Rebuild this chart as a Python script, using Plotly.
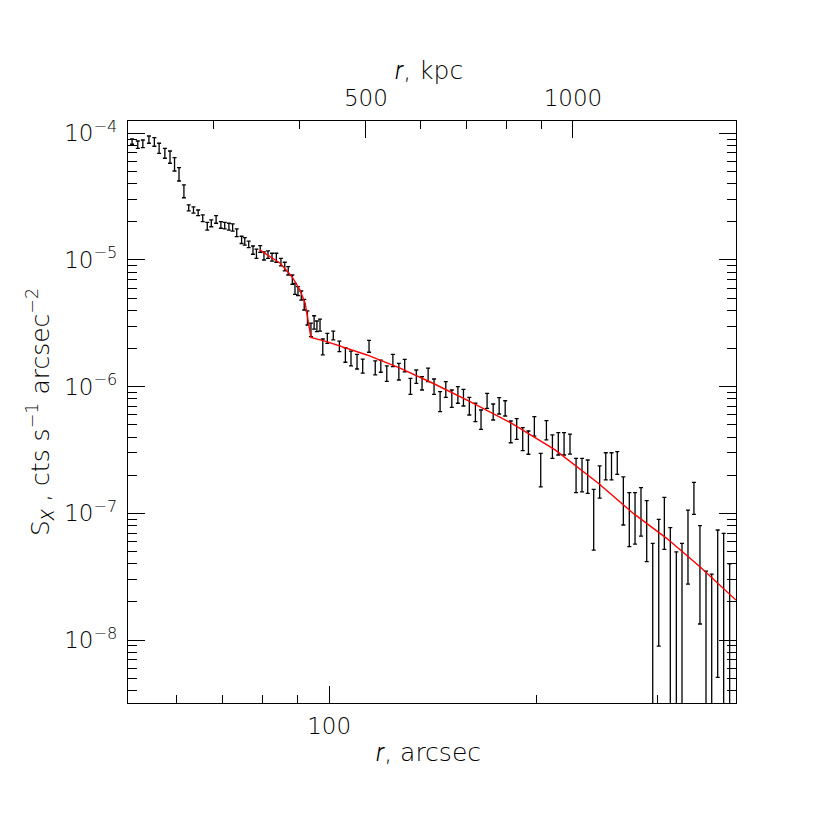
import math
import plotly.graph_objects as go

# ---------------- data ----------------
r_arcsec = [51.7, 52.7, 53.6, 54.7, 55.7, 56.6, 57.7, 58.7, 59.6, 60.5,
            61.5, 62.5, 63.5, 64.5, 65.5, 66.5, 67.4, 68.5, 69.6, 70.5,
            71.5, 72.4, 73.4, 74.6, 75.4, 76.4, 77.5, 78.4, 79.4, 80.4,
            81.5, 82.6, 83.8, 85.1, 86.2, 87.2, 88.4, 89.2, 90.1, 91.1,
            92.0, 93.0, 94.1, 95.1, 96.0, 97.0, 97.9, 99.4, 101.4, 103.5,
            105.6, 107.6, 109.8, 111.9, 114.3, 116.7, 118.9, 121.3, 123.8, 126.3,
            128.8, 131.3, 133.9, 136.5, 139.3, 142.1, 145.0, 147.8, 150.8, 153.9,
            156.8, 159.9, 163.2, 166.3, 169.7, 173.2, 176.7, 180.3, 183.7, 187.4,
            191.2, 194.9, 198.8, 203.1, 207.0, 211.2, 215.4, 219.6, 224.0, 228.6,
            233.2, 237.7, 242.5, 247.4, 252.5, 257.4, 262.4, 267.8, 273.2, 278.5,
            284.1, 289.6, 295.5, 301.5, 307.2, 313.4, 319.8, 325.9, 332.5, 339.2,
            346.1, 353.2, 360.0, 367.3, 374.7, 382.3]

# upper / lower ends of each error bar (cts s^-1 arcsec^-2); 0 = consistent with zero
s_upper = [9.02e-5, 8.69e-5, 8.85e-5, 9.52e-5, 9.23e-5, 8.34e-5, 7.61e-5, 7.25e-5, 6.42e-5, 5.35e-5,
           3.91e-5, 2.72e-5, 2.63e-5, 2.48e-5, 2.27e-5, 1.98e-5, 2.07e-5, 2.24e-5, 2.01e-5, 1.98e-5,
           1.95e-5, 1.93e-5, 1.76e-5, 1.54e-5, 1.50e-5, 1.41e-5, 1.29e-5, 1.22e-5, 1.30e-5, 1.16e-5,
           1.18e-5, 1.13e-5, 1.13e-5, 1.03e-5, 9.6e-6, 8.86e-6, 7.61e-6, 6.55e-6, 6.16e-6, 5.69e-6,
           4.89e-6, 3.96e-6, 3.17e-6, 3.63e-6, 3.30e-6, 3.42e-6, 2.38e-6, 2.64e-6, 2.75e-6, 2.29e-6,
           2.03e-6, 1.91e-6, 1.80e-6, 1.65e-6, 2.32e-6, 1.60e-6, 1.62e-6, 1.46e-6, 1.80e-6, 1.53e-6,
           1.645e-6, 1.165e-6, 1.354e-6, 1.20e-6, 1.40e-6, 1.15e-6, 9.13e-7, 1.095e-6, 9.42e-7, 1.00e-6,
           9.54e-7, 8.25e-7, 7.40e-7, 6.55e-7, 8.87e-7, 7.30e-7, 8.19e-7, 7.75e-7, 5.36e-7, 5.59e-7,
           4.75e-7, 4.47e-7, 5.80e-7, 2.98e-7, 5.39e-7, 4.16e-7, 4.34e-7, 4.34e-7, 4.23e-7, 2.72e-7,
           2.72e-7, 2.64e-7, 1.55e-7, 2.37e-7, 3.01e-7, 3.01e-7, 3.07e-7, 1.94e-7, 1.46e-7, 1.46e-7,
           1.60e-7, 1.26e-7, 5.81e-8, 8.98e-8, 1.34e-7, 7.71e-8, 4.98e-8, 5.81e-8, 1.063e-7, 1.76e-7,
           8.0e-8, 3.51e-8, 3.32e-8, 7.40e-8, 6.97e-8, 3.99e-8]

s_lower = [8.19e-5, 7.61e-5, 7.70e-5, 8.34e-5, 7.90e-5, 6.95e-5, 6.35e-5, 5.80e-5, 5.04e-5, 4.20e-5,
           3.10e-5, 2.44e-5, 2.34e-5, 2.24e-5, 2.01e-5, 1.72e-5, 1.83e-5, 1.95e-5, 1.78e-5, 1.76e-5,
           1.72e-5, 1.69e-5, 1.53e-5, 1.35e-5, 1.31e-5, 1.25e-5, 1.11e-5, 1.03e-5, 1.15e-5, 1.00e-5,
           1.03e-5, 9.8e-6, 9.6e-6, 9.0e-6, 8.2e-6, 7.61e-6, 6.43e-6, 5.36e-6, 5.23e-6, 4.83e-6,
           4.03e-6, 3.07e-6, 2.48e-6, 2.85e-6, 2.72e-6, 2.75e-6, 1.78e-6, 2.20e-6, 2.34e-6, 1.89e-6,
           1.56e-6, 1.46e-6, 1.38e-6, 1.28e-6, 1.87e-6, 1.24e-6, 1.30e-6, 1.10e-6, 1.44e-6, 1.13e-6,
           1.31e-6, 8.71e-7, 1.064e-6, 9.42e-7, 1.095e-6, 8.71e-7, 6.35e-7, 8.25e-7, 6.88e-7, 7.40e-7,
           7.04e-7, 5.98e-7, 5.30e-7, 4.61e-7, 6.75e-7, 5.46e-7, 6.09e-7, 5.87e-7, 3.61e-7, 3.84e-7,
           3.13e-7, 2.93e-7, 4.08e-7, 1.62e-7, 3.80e-7, 2.72e-7, 2.89e-7, 2.89e-7, 2.94e-7, 1.46e-7,
           1.48e-7, 1.44e-7, 5.14e-8, 1.32e-7, 1.84e-7, 1.84e-7, 2.03e-7, 8.1e-8, 5.46e-8, 5.73e-8,
           6.63e-8, 4.16e-8, 0.0, 8.98e-9, 5.21e-8, 0.0, 0.0, 0.0, 2.77e-8, 9.84e-8,
           1.34e-8, 0.0, 0.0, 5.09e-9, 0.0, 0.0]

# red model curve
model_r = [79.3, 84.9, 88.3, 90.7, 92.3, 93.3, 94.1, 99.2, 103.7, 113.5,
           126.8, 141.8, 160.3, 184.3, 213.1, 246.3, 276.9, 309.6, 346.1, 390.5]
model_s = [1.20e-5, 9.42e-6, 7.38e-6, 5.80e-6, 4.55e-6, 3.17e-6, 2.45e-6, 2.27e-6, 2.10e-6, 1.78e-6,
           1.40e-6, 1.06e-6, 7.61e-7, 5.14e-7, 3.17e-7, 1.73e-7, 1.00e-7, 6.36e-8, 3.80e-8, 2.07e-8]

KPC_PER_ARCSEC = 4.42
x_limits = [51.0, 390.5]          # arcsec
y_limits = [3.19e-9, 1.25e-4]

x_major = [100]
x_major_text = ["100"]
x_minor = [60, 70, 80, 90, 200, 300]
top_major = [500, 1000]
top_major_text = ["500", "1000"]
top_minor = [300, 400, 600, 700, 800, 900]
y_major = [1e-8, 1e-7, 1e-6, 1e-5, 1e-4]
y_major_text = ["10<sup>−8</sup>", "10<sup>−7</sup>", "10<sup>−6</sup>",
                "10<sup>−5</sup>", "10<sup>−4</sup>"]
y_minor = [k * 10.0 ** e for e in range(-9, -4) for k in range(2, 10)]
y_minor = [v for v in y_minor if y_limits[0] < v < y_limits[1]]

# ---------------- figure ----------------
center = [(h + l) / 2 for h, l in zip(s_upper, s_lower)]
err = [(h - l) / 2 for h, l in zip(s_upper, s_lower)]

TICK_FONT = dict(family="'DejaVu Sans', sans-serif", size=23, color="black", weight=200)
TITLE_FONT = dict(family="'DejaVu Sans', sans-serif", size=25, color="black", weight=200)
R_ITALIC = "<span style='font-family:Roboto;font-weight:300;font-style:italic'>r</span>"

fig = go.Figure()
fig.add_trace(go.Scatter(
    x=r_arcsec, y=center, mode="markers",
    marker=dict(size=0, opacity=0, color="black"),
    error_y=dict(type="data", array=err, symmetric=True,
                 color="black", thickness=1.3, width=2),
    showlegend=False, hoverinfo="skip"))
fig.add_trace(go.Scatter(
    x=model_r, y=model_s, mode="lines",
    line=dict(color="#ff0000", width=1.4),
    showlegend=False, hoverinfo="skip"))
fig.add_trace(go.Scatter(
    x=[v * KPC_PER_ARCSEC for v in model_r], y=model_s, xaxis="x2", mode="lines",
    line=dict(color="rgba(0,0,0,0)", width=0), opacity=0,
    showlegend=False, hoverinfo="skip"))

axis_common = dict(
    type="log", showgrid=False, zeroline=False, showline=True,
    linecolor="black", linewidth=1.3, ticks="inside", ticklen=17,
    tickwidth=1.2, tickcolor="black", tickmode="array", tickfont=TICK_FONT,
)

fig.update_layout(
    width=830, height=830,
    margin=dict(l=120, r=102, t=113, b=135, pad=0),
    paper_bgcolor="white", plot_bgcolor="white",
    xaxis=dict(**axis_common,
               range=[math.log10(x_limits[0]), math.log10(x_limits[1])],
               tickvals=x_major, ticktext=x_major_text, mirror=False,
               ticklabelstandoff=2,
               minor=dict(tickmode="array", tickvals=x_minor, ticks="inside",
                          ticklen=8, tickwidth=1.2, tickcolor="black", showgrid=False)),
    xaxis2=dict(**axis_common,
                range=[math.log10(x_limits[0] * KPC_PER_ARCSEC),
                       math.log10(x_limits[1] * KPC_PER_ARCSEC)],
                tickvals=top_major, ticktext=top_major_text,
                overlaying="x", side="top", anchor="y",
                ticklabelstandoff=5,
                minor=dict(tickmode="array", tickvals=top_minor, ticks="inside",
                           ticklen=8, tickwidth=1.2, tickcolor="black", showgrid=False)),
    yaxis=dict(**axis_common,
               range=[math.log10(y_limits[0]), math.log10(y_limits[1])],
               tickvals=y_major, ticktext=y_major_text, mirror="ticks",
               ticklabelstandoff=5,
               minor=dict(tickmode="array", tickvals=y_minor, ticks="inside",
                          ticklen=9, tickwidth=1.2, tickcolor="black", showgrid=False)),
    annotations=[
        dict(text=R_ITALIC + ", kpc", xref="paper", yref="paper", x=0.495, y=1.0876,
             xanchor="center", yanchor="middle", showarrow=False, font=TITLE_FONT),
        dict(text=R_ITALIC + ", arcsec", xref="paper", yref="paper", x=0.495, y=-0.0842,
             xanchor="center", yanchor="middle", showarrow=False, font=TITLE_FONT),
        dict(text="S<sub><span style='font-family:Roboto;font-weight:300;font-style:italic'>X</span></sub>"
                  " , cts s<sup>−1</sup> arcsec<sup>−2</sup>",
             xref="paper", yref="paper", x=-0.1447, y=0.5, textangle=-90,
             xanchor="center", yanchor="middle", showarrow=False, font=TITLE_FONT),
    ],
)

fig.write_html("out.html")
